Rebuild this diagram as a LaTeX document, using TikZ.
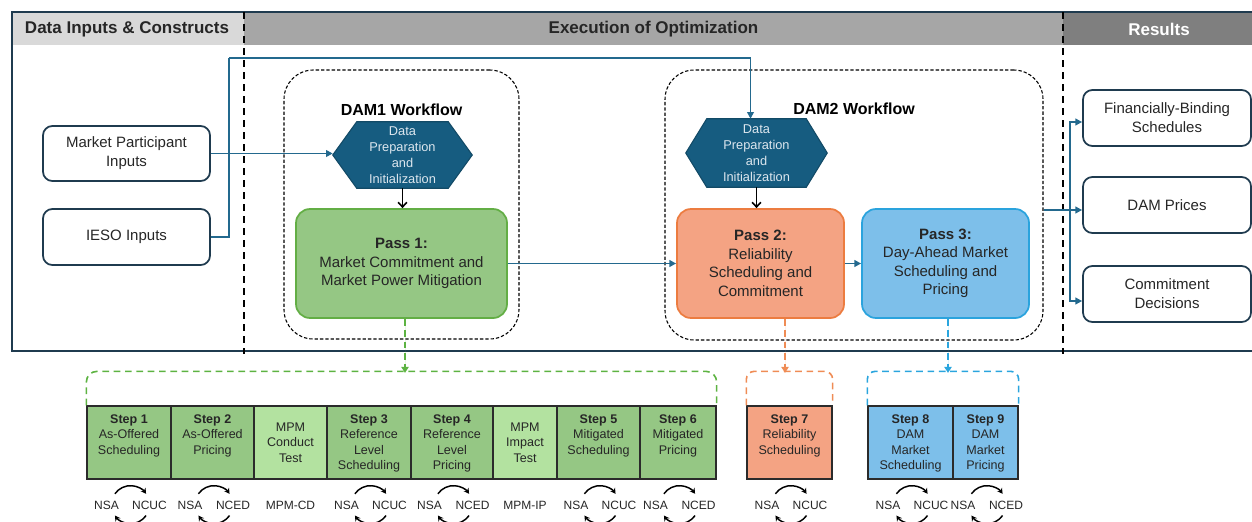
\documentclass[tikz,border=0pt]{standalone}
\usepackage{fontspec}
\setmainfont{Liberation Sans}
\usetikzlibrary{arrows.meta,calc,backgrounds}
\definecolor{hdrA}{HTML}{D9D9D9}
\definecolor{hdrB}{HTML}{A6A6A6}
\definecolor{hdrC}{HTML}{7F7F7F}
\definecolor{frameC}{HTML}{1F3B4F}
\definecolor{connC}{HTML}{23698E}
\definecolor{hexF}{HTML}{165C80}
\definecolor{hexD}{HTML}{124A66}
\definecolor{hexT}{HTML}{DCE6EE}
\definecolor{txtC}{HTML}{262626}
\definecolor{gF}{HTML}{95C784}
\definecolor{gD}{HTML}{63AE45}
\definecolor{mF}{HTML}{B3E2A0}
\definecolor{oF}{HTML}{F4A383}
\definecolor{oD}{HTML}{EC7C40}
\definecolor{bF}{HTML}{7DBFEA}
\definecolor{bD}{HTML}{2AA3DD}
\definecolor{cellD}{HTML}{2B2B2B}
\definecolor{gDash}{HTML}{5DB342}
\definecolor{oDash}{HTML}{EF8C55}
\definecolor{bDash}{HTML}{2AA5DE}
\newcommand\cyclepair[2]{%
  \node[lbl] (#1a) at ($(#1.south)+(-22.5,26)$) {NSA};
  \node[lbl] (#1b) at ($(#1.south)+(20.5,26)$) {#2};
  \draw[cycarrow] ($(#1.south)+(1.5,25)+(145:14.25pt)$) arc[start angle=145,end angle=35,radius=14.25pt];
  \draw[cycarrow] ($(#1.south)+(1.5,25)+(-35:14.25pt)$) arc[start angle=-35,end angle=-145,radius=14.25pt];
}
\begin{document}
\begin{tikzpicture}[x=0.75pt,y=-0.75pt,
  hdrtxt/.style={font=\bfseries\fontsize{12.75pt}{15pt}\selectfont,text=txtC,inner sep=0pt},
  framel/.style={draw=frameC,line width=1.3pt},
  divl/.style={draw=black,line width=1.4pt,dash pattern=on 5.5pt off 3.5pt},
  inbox/.style={draw=frameC,line width=1.3pt,rounded corners=7pt,align=center,
    font=\fontsize{11.25pt}{14.4pt}\selectfont,text=txtC,inner sep=0pt},
  wfbox/.style={draw=black,line width=0.8pt,dash pattern=on 2.5pt off 1.5pt,rounded corners=22pt,inner sep=0pt},
  wftitle/.style={font=\bfseries\fontsize{12pt}{14pt}\selectfont,text=black,inner sep=0pt},
  hexnode/.style={align=center,font=\fontsize{9.6pt}{12pt}\selectfont,text=hexT,inner sep=0pt},
  passbox/.style={line width=1.3pt,rounded corners=10.5pt,align=center,
    font=\fontsize{11.25pt}{13.9pt}\selectfont,text=txtC,inner sep=0pt,
    minimum height=81.75pt},
  passA/.style={passbox,fill=gF,draw=gD},
  passB/.style={passbox,fill=oF,draw=oD},
  passC/.style={passbox,fill=bF,draw=bD},
  conn/.style={draw=connC,line width=1.4pt},
  ctip/.style={-{Triangle[length=5pt,width=5pt]}},
  blk/.style={draw=black,line width=1.2pt,-{Straight Barb[length=3.5pt,width=6.5pt]}},
  dtip/.style={-{Triangle[length=4.5pt,width=5.5pt]}},
  gdash/.style={draw=gDash,line width=1.2pt,dash pattern=on 5pt off 3.5pt},
  odash/.style={draw=oDash,line width=1.2pt,dash pattern=on 5pt off 3.5pt},
  bdash/.style={draw=bDash,line width=1.2pt,dash pattern=on 5pt off 3.5pt},
  cellbox/.style={draw=cellD,line width=1pt,inner sep=0pt,minimum height=54.75pt,
    align=center,font=\fontsize{9.4pt}{11.6pt}\selectfont,text=txtC},
  cellG/.style={cellbox,fill=gF},
  cellM/.style={cellbox,fill=mF},
  cellO/.style={cellbox,fill=oF},
  cellB/.style={cellbox,fill=bF},
  celltxt/.style={align=center,font=\fontsize{9.4pt}{11.6pt}\selectfont,text=txtC,inner sep=0pt,anchor=north},
  lbl/.style={font=\fontsize{9pt}{11pt}\selectfont,text=txtC,inner sep=0pt},
  cycarrow/.style={draw=black,line width=1.1pt,-{Stealth[length=4pt,width=4.5pt]}},
  resbox/.style={inbox,minimum width=126pt,minimum height=42pt}
]
\useasboundingbox (0,0) rectangle (1252,521);

% header
\fill[hdrA] (12,12) rectangle (244,45);
\fill[hdrB] (244,12) rectangle (1063,45);
\fill[hdrC] (1063,12) rectangle (1252,45);
\node[hdrtxt] (h1) at (127,29) {Data Inputs \& Constructs};
\node[hdrtxt] (h2) at (653.5,29) {Execution of Optimization};
\node[hdrtxt,text=white] (h3) at (1159,29) {Results};

% frame and dividers
\draw[framel] (1252,12) -- (12,12) -- (12,351) -- (1252,351);
\draw[divl] (244,12) -- (244,354);
\draw[divl] (1063,12) -- (1063,354);

% inputs
\node[inbox,minimum width=125.25pt,minimum height=41.25pt] (mpi) at (126.5,153.5) {Market Participant\\Inputs};
\node[inbox,minimum width=125.25pt,minimum height=42pt] (ieso) at (126.5,237) {IESO Inputs};

% workflows
\node[wfbox,minimum width=176.25pt,minimum height=201.75pt] (w1) at (401.5,204.5) {};
\node[wfbox,minimum width=283.5pt,minimum height=202.5pt] (w2) at (854,205) {};
\node[wftitle] (w1t) at (401.5,110) {DAM1 Workflow};
\node[wftitle] (w2t) at (854,109) {DAM2 Workflow};

% hexagons
\node[hexnode,minimum width=104.25pt,minimum height=49.5pt] (hx1) at (402.5,155) {Data\\Preparation\\and\\Initialization};
\node[hexnode,minimum width=105.75pt,minimum height=51pt] (hx2) at (756.5,153) {Data\\Preparation\\and\\Initialization};
\begin{scope}[on background layer]
\filldraw[fill=hexF,draw=hexD,line width=0.8pt] (hx1.west) -- ($(hx1.north west)+(24,0)$) -- ($(hx1.north east)+(-24,0)$) -- (hx1.east) -- ($(hx1.south east)+(-24,0)$) -- ($(hx1.south west)+(24,0)$) -- cycle;
\filldraw[fill=hexF,draw=hexD,line width=0.8pt] (hx2.west) -- ($(hx2.north west)+(21,0)$) -- ($(hx2.north east)+(-21,0)$) -- (hx2.east) -- ($(hx2.south east)+(-21,0)$) -- ($(hx2.south west)+(21,0)$) -- cycle;
\end{scope}

% passes
\node[passA,minimum width=158.25pt] (p1) at (401.5,263.5) {\textbf{Pass 1:}\\Market Commitment and\\Market Power Mitigation};
\node[passB,minimum width=125.25pt] (p2) at (760.5,263.5) {\textbf{Pass 2:}\\Reliability\\Scheduling and\\Commitment};
\node[passC,minimum width=125.25pt] (p3) at (945.5,263.5) {\textbf{Pass 3:}\\Day-Ahead Market\\Scheduling and\\Pricing};

% results
\node[resbox] (fbs) at (1167,118) {Financially-Binding\\Schedules};
\node[resbox] (dp) at (1167,205) {DAM Prices};
\node[resbox] (cd) at (1167,294) {Commitment\\Decisions};

% input connectors
\coordinate (jl) at (229,153.5);
\coordinate (jtop) at (229,58);
\draw[conn,ctip] (mpi.east) -- (mpi.east -| hx1.west);
\draw[conn] (ieso.east) -| (jtop);
\draw[conn,ctip] (jtop) -| ($(hx2.north)+(-6,0)$);

% internal arrows
\draw[blk] (hx1.south) -- (hx1.south |- p1.north);
\draw[blk] (hx2.south) -- (hx2.south |- p2.north);
\draw[conn,ctip] (p1.east) -- (p2.west);
\draw[conn,ctip] (p2.east) -- (p3.west);

% results connectors
\coordinate (jr) at (1070,210);
\draw[conn] (w2.east |- jr) -- (jr);
\draw[conn,ctip] (jr) -- (jr -| dp.west);
\draw[conn,ctip] (jr) |- ($(fbs.west)+(0,4)$);
\draw[conn,ctip] (jr) |- ($(cd.west)+(0,7)$);

% step cells
\node[cellG,minimum width=63pt] (s1) at (129,442.5) {};
\node[cellG,minimum width=62.25pt] (s2) at (212.5,442.5) {};
\node[cellM,minimum width=54.75pt] (mcd) at (290.5,442.5) {MPM\\Conduct\\Test};
\node[cellG,minimum width=63pt] (s3) at (369,442.5) {};
\node[cellG,minimum width=61.5pt] (s4) at (452,442.5) {};
\node[cellM,minimum width=48pt] (mip) at (525,442.5) {MPM\\Impact\\Test};
\node[cellG,minimum width=62.25pt] (s5) at (598.5,442.5) {};
\node[cellG,minimum width=57pt] (s6) at (678,442.5) {};
\node[cellO,minimum width=63.75pt] (s7) at (789.5,442.5) {};
\node[cellB,minimum width=63.75pt] (s8) at (910.5,442.5) {};
\node[cellB,minimum width=48.75pt] (s9) at (985.5,442.5) {};

\node[celltxt] (s1t) at ($(s1.north)+(0,9)$) {\textbf{Step 1}\\As-Offered\\Scheduling};
\node[celltxt] (s2t) at ($(s2.north)+(0,9)$) {\textbf{Step 2}\\As-Offered\\Pricing};
\node[celltxt] (s3t) at ($(s3.north)+(0,9)$) {\textbf{Step 3}\\Reference\\Level\\Scheduling};
\node[celltxt] (s4t) at ($(s4.north)+(0,9)$) {\textbf{Step 4}\\Reference\\Level\\Pricing};
\node[celltxt] (s5t) at ($(s5.north)+(0,9)$) {\textbf{Step 5}\\Mitigated\\Scheduling};
\node[celltxt] (s6t) at ($(s6.north)+(0,9)$) {\textbf{Step 6}\\Mitigated\\Pricing};
\node[celltxt] (s7t) at ($(s7.north)+(0,9)$) {\textbf{Step 7}\\Reliability\\Scheduling};
\node[celltxt] (s8t) at ($(s8.north)+(0,9)$) {\textbf{Step 8}\\DAM\\Market\\Scheduling};
\node[celltxt] (s9t) at ($(s9.north)+(0,9)$) {\textbf{Step 9}\\DAM\\Market\\Pricing};

% brackets and dashed arrows
\draw[gdash,rounded corners=8pt] (s1.north west) -- ++(0,-34) -| (s6.north east);
\draw[odash,rounded corners=6pt] (s7.north west) -- ++(0,-34) -| (s7.north east);
\draw[bdash,rounded corners=6pt] (s8.north west) -- ++(0,-34) -| (s9.north east);
\draw[gdash,dtip,fill=gDash] ($(p1.south)+(3.5,0)$) -- ++(0,54);
\draw[odash,dtip,fill=oDash] ($(p2.south)+(24.5,0)$) -- ++(0,54);
\draw[bdash,dtip,fill=bDash] ($(p3.south)+(2.5,0)$) -- ++(0,54);

% labels under steps
\cyclepair{s1}{NCUC}
\cyclepair{s2}{NCED}
\cyclepair{s3}{NCUC}
\cyclepair{s4}{NCED}
\cyclepair{s5}{NCUC}
\cyclepair{s6}{NCED}
\cyclepair{s7}{NCUC}
\cyclepair{s8}{NCUC}
\cyclepair{s9}{NCED}
\node[lbl] (mcdl) at ($(mcd.south)+(0,26)$) {MPM-CD};
\node[lbl] (mipl) at ($(mip.south)+(0,26)$) {MPM-IP};
\end{tikzpicture}
\end{document}
